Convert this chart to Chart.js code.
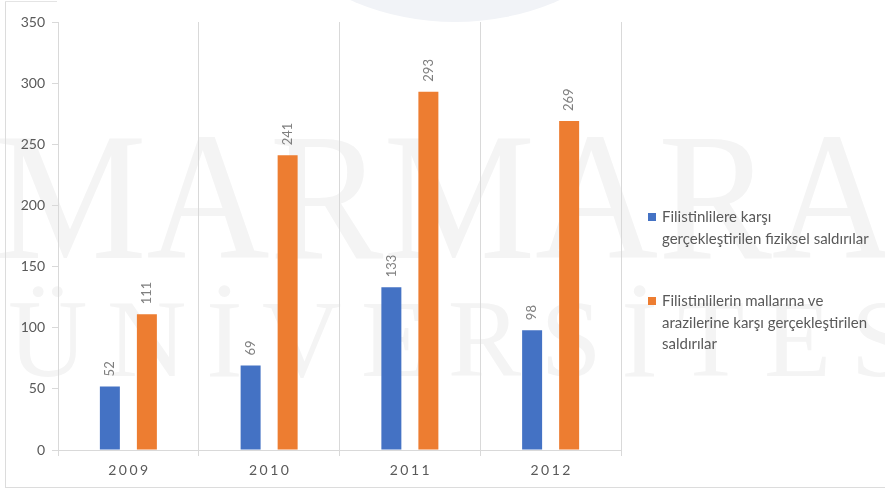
<!DOCTYPE html>
<html>
<head>
<meta charset="utf-8">
<script src="https://cdn.jsdelivr.net/npm/chart.js@4.4.1/dist/chart.umd.min.js"></script>
<style>
  html, body { margin:0; padding:0; background:#fff; }
  #wrap { position:relative; width:885px; height:490px; overflow:hidden; }
  #wm { position:absolute; left:0; top:0; }
  #frame { position:absolute; left:5px; top:1px; width:880px; height:486px;
           border-left:1px solid #dcdcdc; border-bottom:1px solid #dcdcdc; }
  #frame-top { position:absolute; left:5px; top:1px; width:52px; height:0;
               border-top:1px solid #e4e4e4; }
  #chart { position:absolute; left:0; top:0; }
  .legend { position:absolute; left:648px; font-family:"Lato", "Open Sans", sans-serif;
            font-size:15px; color:#595959; line-height:21.5px; white-space:nowrap; }
  .legend .sw { position:absolute; left:0; top:7px; width:8px; height:8px; }
  .legend .tx { margin-left:14px; }
</style>
</head>
<body>
<div id="wrap">
  <svg id="wm" width="885" height="490">
    <circle cx="455" cy="-239" r="261" fill="#f1f3f7"/>
    <text x="-5" y="258" font-family="Liberation Serif" font-size="182" fill="#f4f4f4"
          textLength="900" lengthAdjust="spacingAndGlyphs">MARMARA</text>
    <text x="8" y="376" font-family="Liberation Serif" font-size="110" fill="#f4f4f4"
          textLength="960" lengthAdjust="spacing">ÜNİVERSİTESİ</text>
  </svg>
  <div id="frame"></div>
  <div id="frame-top"></div>
  <canvas id="chart" width="885" height="490"></canvas>
  <div id="legend"></div>
</div>
<script>
/* ════════════════════════════
   DATA
════════════════════════════ */
const YEARS = ['2009', '2010', '2011', '2012'];
const PHYSICAL = [52, 69, 133, 98];
const PROPERTY = [111, 241, 293, 269];
// legend names, split where the original wraps them
const SERIES_NAMES = [
  ['Filistinlilere karşı', 'gerçekleştirilen fiziksel saldırılar'],
  ['Filistinlilerin mallarına ve', 'arazilerine karşı gerçekleştirilen', 'saldırılar']
];
const Y_MIN = 0, Y_MAX = 350, Y_STEP = 50;

const BLUE = '#4472C4';
const ORANGE = '#ED7D31';
const TEXT = '#595959';
const GRID = '#d9d9d9';
const FONT = '"Lato", "Open Sans", sans-serif';

/* ════════════════════════════
   PLUGINS
════════════════════════════ */
// rotated value labels above each bar
const barLabels = {
  id: 'barLabels',
  afterDatasetsDraw(chart) {
    const ctx = chart.ctx;
    chart.data.datasets.forEach((ds, i) => {
      chart.getDatasetMeta(i).data.forEach((bar, j) => {
        ctx.save();
        ctx.translate(bar.x, bar.y - 10);
        ctx.rotate(-Math.PI / 2);
        ctx.font = '13px ' + FONT;
        ctx.fillStyle = '#7f7f7f';
        ctx.textAlign = 'left';
        ctx.textBaseline = 'middle';
        ctx.fillText(String(ds.data[j]), 0, 0);
        ctx.restore();
      });
    });
  }
};

// x labels with the wide letter spacing of the original
const yearLabels = {
  id: 'yearLabels',
  afterDraw(chart) {
    const ctx = chart.ctx, xs = chart.scales.x;
    ctx.save();
    ctx.font = '14px ' + FONT;
    ctx.fillStyle = TEXT;
    ctx.textAlign = 'center';
    ctx.textBaseline = 'middle';
    ctx.letterSpacing = '2.5px';
    chart.data.labels.forEach((lab, i) => {
      ctx.fillText(lab, xs.getPixelForValue(i) + 1, 470);
    });
    ctx.restore();
  }
};

/* ════════════════════════════
   CHART
════════════════════════════ */
new Chart(document.getElementById('chart').getContext('2d'), {
  type: 'bar',
  data: {
    labels: YEARS,
    datasets: [
      { label: SERIES_NAMES[0].join(' '), data: PHYSICAL, backgroundColor: BLUE,
        categoryPercentage: 0.526, barPercentage: 0.54 },
      { label: SERIES_NAMES[1].join(' '), data: PROPERTY, backgroundColor: ORANGE,
        categoryPercentage: 0.526, barPercentage: 0.54 }
    ]
  },
  options: {
    responsive: false, animation: false,
    layout: { padding: { top: 22, right: 264, left: 0, bottom: 0 } },
    plugins: { legend: { display: false }, tooltip: { enabled: false } },
    scales: {
      x: {
        grid: { offset: true, color: GRID, tickLength: 6, drawTicks: true },
        border: { color: GRID },
        ticks: { display: false },
        afterFit(s) { s.height = 40; }
      },
      y: {
        min: Y_MIN, max: Y_MAX,
        grid: { drawOnChartArea: false, color: GRID, tickLength: 6 },
        border: { color: GRID },
        ticks: { stepSize: Y_STEP, padding: 7, color: TEXT, font: { family: FONT, size: 14 } },
        afterFit(s) { s.width = 58; }
      }
    }
  },
  plugins: [barLabels, yearLabels]
});

// legend on the right, wrapped like the original
const LEGEND_TOPS = [206, 290];
document.getElementById('legend').innerHTML = SERIES_NAMES.map((lines, i) => `
  <div class="legend" style="top:${LEGEND_TOPS[i]}px">
    <span class="sw" style="background:${i ? ORANGE : BLUE}"></span>
    <div class="tx">${lines.join('<br>')}</div>
  </div>`).join('');
</script>
</body>
</html>
